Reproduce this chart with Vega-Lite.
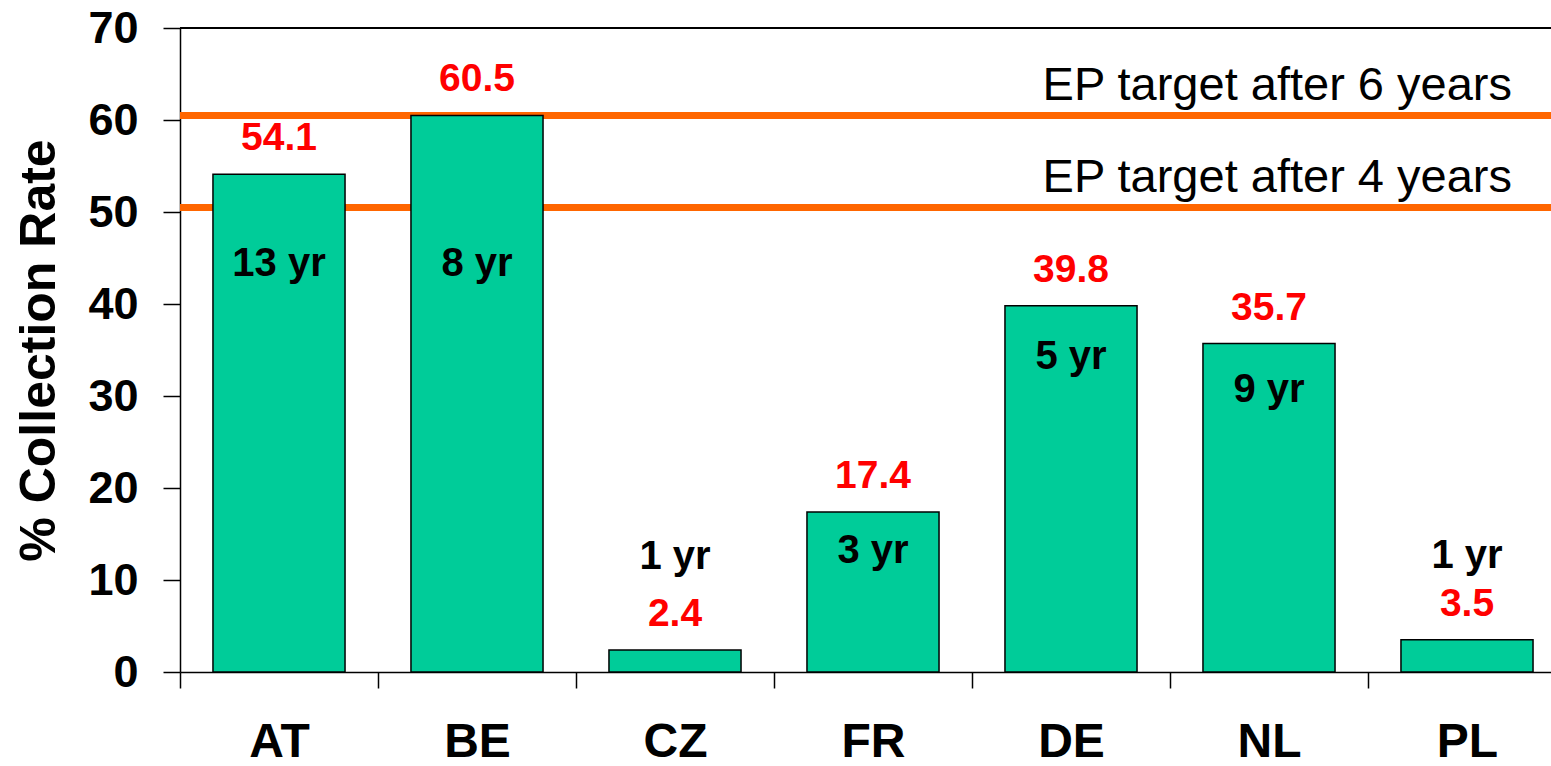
{
  "$schema": "https://vega.github.io/schema/vega-lite/v6.json",
  "width": 1371,
  "height": 644,
  "autosize": {"type": "none"},
  "padding": {"left": 180, "top": 28, "right": 0, "bottom": 94},
  "background": "white",
  "config": {
    "font": "Liberation Sans",
    "view": {"stroke": null},
    "axis": {"domainColor": "black", "tickColor": "black", "labelColor": "black", "titleColor": "black", "grid": false}
  },
  "datasets": {
    "bars": [
      {"country": "AT", "rate": 54.1, "years": "13 yr", "yr_pos": 43.0},
      {"country": "BE", "rate": 60.5, "years": "8 yr", "yr_pos": 43.0},
      {"country": "CZ", "rate": 2.4, "years": "1 yr", "yr_pos": 11.2},
      {"country": "FR", "rate": 17.4, "years": "3 yr", "yr_pos": 11.9},
      {"country": "DE", "rate": 39.8, "years": "5 yr", "yr_pos": 32.9},
      {"country": "NL", "rate": 35.7, "years": "9 yr", "yr_pos": 29.3},
      {"country": "PL", "rate": 3.5, "years": "1 yr", "yr_pos": 11.3}
    ],
    "targets": [
      {"label": "EP target after 6 years", "target": 60.5, "anchor": "PL"},
      {"label": "EP target after 4 years", "target": 50.5, "anchor": "PL"}
    ]
  },
  "encoding": {
    "x": {
      "field": "country",
      "type": "nominal",
      "scale": {"domain": ["AT", "BE", "CZ", "FR", "DE", "NL", "PL"], "paddingInner": 0, "paddingOuter": 0, "range": [0, 1386]},
      "axis": {
        "title": null,
        "labelAngle": 0,
        "labelFontSize": 48,
        "labelFontWeight": "bold",
        "labelPadding": 30,
        "tickBand": "extent",
        "tickSize": 16,
        "tickWidth": 1.5,
        "domainWidth": 1.5
      }
    }
  },
  "layer": [
    {
      "data": {"name": "targets"},
      "mark": {"type": "rule", "color": "#FF6600", "strokeWidth": 7},
      "encoding": {
        "x": null,
        "y": {"field": "target", "type": "quantitative"}
      }
    },
    {
      "data": {"name": "bars"},
      "mark": {"type": "rule", "color": "black", "strokeWidth": 1.5},
      "encoding": {
        "x": null,
        "y": {"datum": 70, "type": "quantitative"}
      }
    },
    {
      "data": {"name": "bars"},
      "mark": {"type": "bar", "color": "#00CC99", "stroke": "black", "strokeWidth": 1.5, "width": {"band": 0.667}},
      "encoding": {
        "y": {
          "field": "rate",
          "type": "quantitative",
          "scale": {"domain": [0, 70], "nice": false},
          "axis": {
            "title": "% Collection Rate",
            "titleFontSize": 50,
            "titleFontWeight": "bold",
            "titlePadding": 23,
            "values": [0, 10, 20, 30, 40, 50, 60, 70],
            "labelFontSize": 45,
            "labelFontWeight": "bold",
            "labelPadding": 25,
            "tickSize": 17,
            "tickWidth": 1.5,
            "domainWidth": 1.5
          }
        }
      }
    },
    {
      "data": {"name": "bars"},
      "mark": {"type": "text", "color": "#FF0000", "fontSize": 39, "fontWeight": "bold", "baseline": "alphabetic", "dy": -24},
      "encoding": {
        "y": {"field": "rate", "type": "quantitative"},
        "text": {"field": "rate", "type": "quantitative", "format": ".1f"}
      }
    },
    {
      "data": {"name": "bars"},
      "mark": {"type": "text", "color": "black", "fontSize": 40, "fontWeight": "bold", "baseline": "alphabetic"},
      "encoding": {
        "y": {"field": "yr_pos", "type": "quantitative"},
        "text": {"field": "years", "type": "nominal"}
      }
    },
    {
      "data": {"name": "targets"},
      "mark": {"type": "text", "color": "black", "fontSize": 47, "align": "right", "baseline": "alphabetic", "dx": 45, "dy": -15},
      "encoding": {
        "x": {"field": "anchor", "type": "nominal"},
        "y": {"field": "target", "type": "quantitative"},
        "text": {"field": "label", "type": "nominal"}
      }
    }
  ]
}
